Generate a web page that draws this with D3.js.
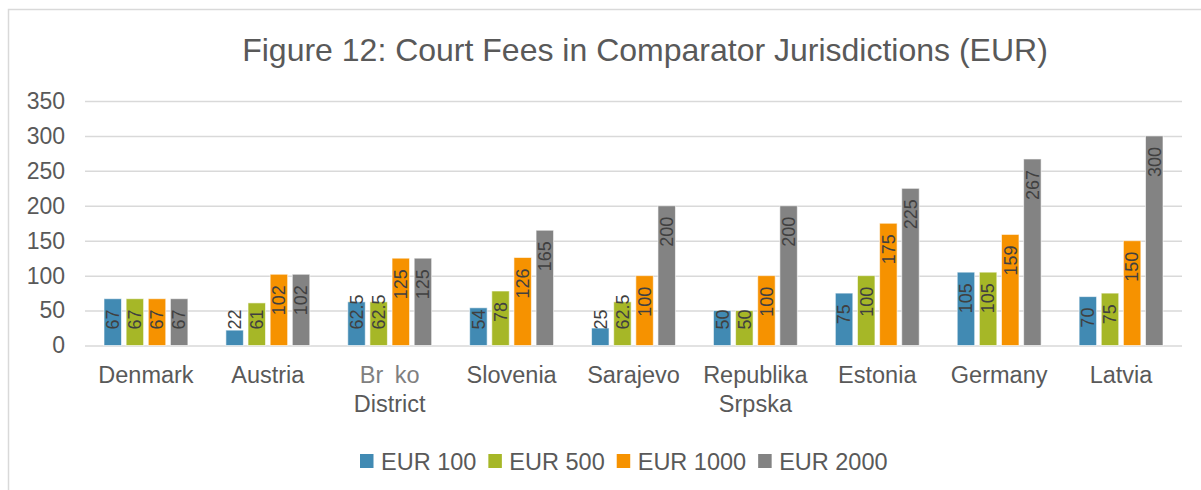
<!DOCTYPE html>
<html lang="en">
<head>
<meta charset="UTF-8">
<title>Figure 12: Court Fees in Comparator Jurisdictions (EUR)</title>
<script src="https://d3js.org/d3.v7.min.js"></script>
<style>
    body { margin: 0; padding: 0; background: #fff; }
    svg { display: block; font-family: "Liberation Sans", Arial, sans-serif; }
</style>
</head>
<body>
<div id="chart"></div>
<script>
// data
const categories = ["Denmark", "Austria", "Brcko", "Slovenia", "Sarajevo", "Republika Srpska", "Estonia", "Germany", "Latvia"];
const categoryLines = [["Denmark"], ["Austria"], ["Br ko", "District"], ["Slovenia"], ["Sarajevo"], ["Republika", "Srpska"], ["Estonia"], ["Germany"], ["Latvia"]];
const seriesNames = ["EUR 100", "EUR 500", "EUR 1000", "EUR 2000"];
const eur100  = [67, 22, 62.5, 54, 25, 50, 75, 105, 70];
const eur500  = [67, 61, 62.5, 78, 62.5, 50, 100, 105, 75];
const eur1000 = [67, 102, 125, 126, 100, 100, 175, 159, 150];
const eur2000 = [67, 102, 125, 165, 200, 200, 225, 267, 300];
const yTicks = [0, 50, 100, 150, 200, 250, 300, 350];
const colors = ["#418AB3", "#A6B727", "#F69200", "#838383"];

const W = 1201, H = 490;
const plot = {left: 85, right: 1182, top: 101, bottom: 345.5};

const svg = d3.select("#chart").append("svg")
    .attr("width", W).attr("height", H);

// chart border (runs off the right and bottom of the crop)
svg.append("rect")
    .attr("x", 8.5).attr("y", 9.5)
    .attr("width", 1400).attr("height", 700)
    .attr("fill", "#fff")
    .attr("stroke", "#D9D9D9").attr("stroke-width", 1.5);

// title
svg.append("text")
    .attr("x", 645).attr("y", 61)
    .attr("text-anchor", "middle")
    .attr("fill", "#595959")
    .style("font-size", "32px")
    .text("Figure 12: Court Fees in Comparator Jurisdictions (EUR)");

const x0 = d3.scaleBand()
    .domain(categories)
    .range([plot.left, plot.right]);

const x1 = d3.scaleBand()
    .domain(seriesNames)
    .range([19, x0.bandwidth() - 19])
    .paddingInner(0.21);

const y = d3.scaleLinear()
    .domain([0, 350])
    .range([plot.bottom, plot.top]);

// gridlines + y labels
const yAxis = svg.append("g")
    .attr("transform", `translate(${plot.left},0)`)
    .call(d3.axisLeft(y).tickValues(yTicks).tickSize(-(plot.right - plot.left)).tickPadding(20));
yAxis.select(".domain").remove();
yAxis.selectAll(".tick line").attr("stroke", "#D9D9D9").attr("stroke-width", 1.5);
yAxis.selectAll(".tick text")
    .attr("fill", "#595959")
    .style("font-size", "23px")
    .style("font-family", "'Liberation Sans', Arial, sans-serif");

const rows = categories.map((c, i) => ({
    cat: c,
    values: [eur100[i], eur500[i], eur1000[i], eur2000[i]]
}));

// bars
const groups = svg.selectAll(".grp")
    .data(rows)
    .enter().append("g")
    .attr("class", "grp")
    .attr("transform", d => `translate(${x0(d.cat)},0)`);

groups.selectAll("rect")
    .data(d => d.values.map((v, j) => ({key: seriesNames[j], value: v, j: j})))
    .enter().append("rect")
    .attr("x", d => x1(d.key))
    .attr("y", d => y(d.value))
    .attr("width", x1.bandwidth())
    .attr("height", d => y(0) - y(d.value))
    .attr("fill", d => colors[d.j])
    .attr("stroke", "#fff").attr("stroke-opacity", 0.6).attr("stroke-width", 1);

// value labels, rotated, inside end of bar but kept above the base
groups.selectAll(".lbl")
    .data(d => d.values.map((v, j) => ({key: seriesNames[j], value: v, j: j})))
    .enter().append("text")
    .attr("class", "lbl")
    .attr("fill", "#404040")
    .style("font-size", "18px")
    .attr("text-anchor", "start")
    .attr("dy", "0.35em")
    .text(d => d.value)
    .each(function(d) {
        const len = this.getComputedTextLength();
        const cx = x1(d.key) + x1.bandwidth() / 2;
        const bottom = Math.min(y(0) - 16, y(d.value) + 11 + len);
        d3.select(this).attr("transform", `translate(${cx},${bottom}) rotate(-90)`);
    });

// category labels
const xl = svg.selectAll(".xl")
    .data(rows)
    .enter().append("text")
    .attr("class", "xl")
    .attr("x", d => x0(d.cat) + x0.bandwidth() / 2)
    .attr("y", 383)
    .attr("text-anchor", "middle")
    .attr("fill", "#595959")
    .style("font-size", "23.5px");

xl.selectAll("tspan")
    .data((d, i) => categoryLines[i])
    .enter().append("tspan")
    .attr("x", function() { return d3.select(this.parentNode).attr("x"); })
    .attr("dy", (d, k) => k === 0 ? 0 : 29)
    .attr("fill", d => d === "Br ko" ? "#7F7F7F" : null)
    .style("word-spacing", d => d === "Br ko" ? "5px" : null)
    .text(d => d);

// legend, laid out left to right from measured text widths
const legend = svg.append("g").attr("transform", "translate(360,454)");
let lx = 0;
seriesNames.forEach((name, i) => {
    const item = legend.append("g").attr("transform", `translate(${lx},0)`);
    item.append("rect")
        .attr("width", 13.5).attr("height", 14)
        .attr("fill", colors[i]);
    const t = item.append("text")
        .attr("x", 21).attr("y", 15.5)
        .attr("fill", "#595959")
        .style("font-size", "23.5px")
        .text(name);
    lx += 21 + t.node().getComputedTextLength() + 12;
});
</script>
</body>
</html>
